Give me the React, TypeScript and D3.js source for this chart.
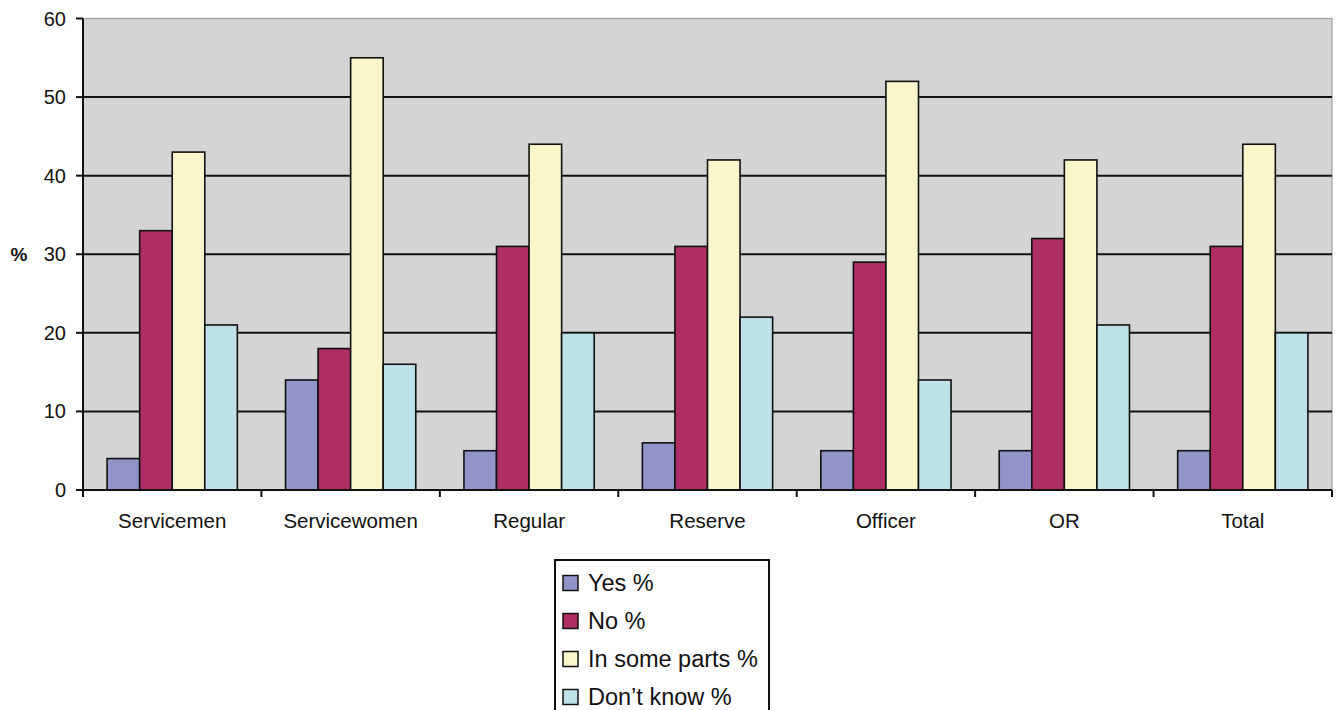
import React from "react";
import * as d3 from "d3";

const categories = ["Servicemen", "Servicewomen", "Regular", "Reserve", "Officer", "OR", "Total"];
const seriesNames = ["Yes %", "No %", "In some parts %", "Don\u2019t know %"];
const yesValues = [4, 14, 5, 6, 5, 5, 5];
const noValues = [33, 18, 31, 31, 29, 32, 31];
const somePartsValues = [43, 55, 44, 42, 52, 42, 44];
const dontKnowValues = [21, 16, 20, 22, 14, 21, 20];
const yTicks = [0, 10, 20, 30, 40, 50, 60];
const colors = ["#9194C8", "#AE2D62", "#FAF6CC", "#BEE2EA"];

const W = 1336;
const H = 710;
const left = 83;
const right = 1332;
const top = 18.5;
const bottom = 490;

export default function App() {
  const series = [yesValues, noValues, somePartsValues, dontKnowValues];
  const x0 = d3.scaleBand<string>().domain(categories).range([left, right]).paddingInner(0).paddingOuter(0);
  const x1 = d3
    .scaleBand<number>()
    .domain(d3.range(series.length))
    .range([0, x0.bandwidth()])
    .paddingInner(0)
    .paddingOuter(0.74);
  const y = d3.scaleLinear().domain([0, 60]).range([bottom, top]);
  const font = "Arial, 'Liberation Sans', sans-serif";

  return (
    <svg width={W} height={H} style={{ position: "absolute", left: 0, top: 0 }} fontFamily={font} fill="#111">
      <rect x={left} y={top} width={right - left} height={bottom - top} fill="#D4D4D4" stroke="#A0A0A0" strokeWidth={1.2} />
      {yTicks.slice(1, -1).map((t) => (
        <line key={t} x1={left} x2={right} y1={y(t)} y2={y(t)} stroke="#111" strokeWidth={2} />
      ))}
      {categories.map((c, ci) =>
        series.map((vals, si) => (
          <rect
            key={c + si}
            x={(x0(c) as number) + (x1(si) as number)}
            y={y(vals[ci])}
            width={x1.bandwidth()}
            height={bottom - y(vals[ci])}
            fill={colors[si]}
            stroke="#111"
            strokeWidth={1.6}
          />
        ))
      )}
      {/* axes */}
      <line x1={left} x2={left} y1={top} y2={bottom} stroke="#111" strokeWidth={2} />
      <line x1={left} x2={right} y1={bottom} y2={bottom} stroke="#111" strokeWidth={2} />
      {yTicks.map((t) => (
        <g key={t}>
          <line x1={left - 7} x2={left} y1={y(t)} y2={y(t)} stroke="#111" strokeWidth={2} />
          <text x={66} y={y(t)} dy="0.35em" textAnchor="end" fontSize={20}>
            {t}
          </text>
        </g>
      ))}
      {categories.concat(["__end"]).map((c, i) => {
        const xx = left + i * x0.step();
        return <line key={c} x1={xx} x2={xx} y1={bottom} y2={bottom + 7} stroke="#111" strokeWidth={2} />;
      })}
      {categories.map((c) => (
        <text key={c} x={(x0(c) as number) + x0.bandwidth() / 2} y={528} textAnchor="middle" fontSize={20.5}>
          {c}
        </text>
      ))}
      <text x={19} y={254} dy="0.35em" textAnchor="middle" fontSize={19} fontWeight="bold">
        %
      </text>
      {/* legend */}
      <rect x={555} y={560} width={214} height={160} fill="#fff" stroke="#111" strokeWidth={2} />
      {seriesNames.map((n, i) => (
        <g key={n}>
          <rect x={563} y={583 + i * 38 - 7.5} width={15} height={15} fill={colors[i]} stroke="#111" strokeWidth={1.5} />
          <text x={588} y={583 + i * 38} dy="0.35em" fontSize={23.5}>
            {n}
          </text>
        </g>
      ))}
    </svg>
  );
}
